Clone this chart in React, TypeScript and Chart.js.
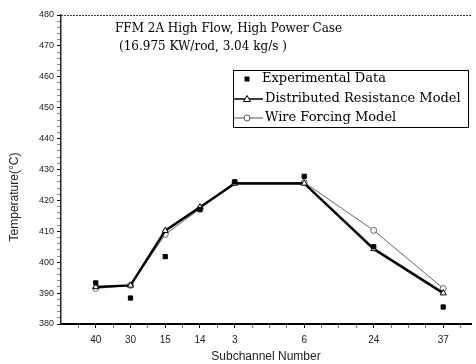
import React, { useEffect, useRef } from "react";
import { Chart, registerables } from "chart.js";

Chart.register(...registerables);

const subchannels = ["40", "30", "15", "14", "3", "6", "24", "37"];
const positions = [1, 2, 3, 4, 5, 7, 9, 11];
const experimental = [393.3, 388.4, 401.8, 417.0, 426.0, 427.8, 405.0, 385.5];
const distributedResistance = [392.0, 392.5, 410.2, 417.8, 425.5, 425.5, 404.3, 390.0];
const wireForcing = [391.5, 392.5, 409.0, 417.3, 425.8, 425.8, 410.3, 391.5];
const yMajorTicks = [380, 390, 400, 410, 420, 430, 440, 450, 460, 470, 480];
const titleLines = ["FFM 2A High Flow, High Power Case", "(16.975 KW/rod, 3.04 kg/s )"];
const legendLabels = ["Experimental Data", "Distributed Resistance Model", "Wire Forcing Model"];
const yAxisTitle = "Temperature(\u00B0C)";
const xAxisTitle = "Subchannel Number";

const SERIF = "'DejaVu Serif', 'Liberation Serif', serif";
const SANS = "'Liberation Sans', Arial, sans-serif";

const overlayPlugin = {
  id: "overlay",
  afterDraw(chart: any) {
    const ctx = chart.ctx as CanvasRenderingContext2D;
    const area = chart.chartArea;
    ctx.save();
    // dotted top border
    ctx.strokeStyle = "#444";
    ctx.lineWidth = 1;
    ctx.setLineDash([2, 1]);
    ctx.beginPath();
    ctx.moveTo(area.left, area.top + 0.5);
    ctx.lineTo(area.right, area.top + 0.5);
    ctx.stroke();
    ctx.setLineDash([]);

    // annotation text
    ctx.fillStyle = "#000";
    ctx.font = `12px ${SERIF}`;
    ctx.textBaseline = "middle";
    ctx.textAlign = "left";
    ctx.fillText(titleLines[0], 115, 29);
    ctx.fillText(titleLines[1], 119, 47);

    // legend box
    const bx = 233, by = 70, bw = 235, bh = 57;
    ctx.fillStyle = "#fff";
    ctx.fillRect(bx + 1, by + 1, bw - 1, bh - 1);
    ctx.strokeStyle = "#000";
    ctx.lineWidth = 1;
    ctx.strokeRect(bx + 0.5, by + 0.5, bw, bh);

    const rows = [79, 99, 118];
    const mx = 247;
    // experimental marker
    ctx.fillStyle = "#000";
    ctx.fillRect(mx - 2.5, rows[0] - 2.5, 5, 5);
    // DRM line
    ctx.strokeStyle = "#000";
    ctx.lineWidth = 1.5;
    ctx.beginPath();
    ctx.moveTo(bx, rows[1]);
    ctx.lineTo(bx + 30, rows[1]);
    ctx.stroke();
    ctx.lineWidth = 1;
    ctx.beginPath();
    ctx.moveTo(mx, rows[1] - 3.5);
    ctx.lineTo(mx + 3.5, rows[1] + 2.5);
    ctx.lineTo(mx - 3.5, rows[1] + 2.5);
    ctx.closePath();
    ctx.fillStyle = "#fff";
    ctx.fill();
    ctx.stroke();
    // WFM line
    ctx.strokeStyle = "#555";
    ctx.lineWidth = 1;
    ctx.beginPath();
    ctx.moveTo(bx, rows[2]);
    ctx.lineTo(bx + 30, rows[2]);
    ctx.stroke();
    ctx.beginPath();
    ctx.arc(mx, rows[2], 3, 0, Math.PI * 2);
    ctx.fillStyle = "#fff";
    ctx.fill();
    ctx.stroke();

    ctx.fillStyle = "#000";
    ctx.font = `13px ${SERIF}`;
    ctx.fillText(legendLabels[0], 262, rows[0]);
    ctx.fillText(legendLabels[1], 265, rows[1]);
    ctx.fillText(legendLabels[2], 265, rows[2]);

    // y axis title
    ctx.save();
    ctx.translate(15, 197);
    ctx.rotate(-Math.PI / 2);
    ctx.textAlign = "center";
    ctx.font = `12px ${SANS}`;
    ctx.fillStyle = "#222";
    ctx.fillText(yAxisTitle, 0, 0);
    ctx.restore();

    ctx.restore();
  },
};

export default function App() {
  const canvasRef = useRef<HTMLCanvasElement | null>(null);

  useEffect(() => {
    const canvas = canvasRef.current;
    if (!canvas) return;
    const toPts = (arr: number[]) => positions.map((x, i) => ({ x, y: arr[i] }));
    const chart = new Chart(canvas, {
      type: "line",
      data: {
        datasets: [
          {
            label: legendLabels[0],
            data: toPts(experimental),
            showLine: false,
            pointStyle: "rect",
            pointRadius: 3,
            backgroundColor: "#000",
            borderColor: "#000",
            order: 0,
          },
          {
            label: legendLabels[1],
            data: toPts(distributedResistance),
            borderColor: "#000",
            borderWidth: 2.5,
            pointStyle: "triangle",
            pointRadius: 3.5,
            pointBorderWidth: 1,
            pointBackgroundColor: "#fff",
            pointBorderColor: "#000",
            tension: 0,
            order: 1,
          },
          {
            label: legendLabels[2],
            data: toPts(wireForcing),
            borderColor: "#666",
            borderWidth: 1,
            pointStyle: "circle",
            pointRadius: 3,
            pointBorderWidth: 1,
            pointBackgroundColor: "#fff",
            pointBorderColor: "#666",
            tension: 0,
            order: 2,
          },
        ],
      },
      options: {
        responsive: false,
        animation: false,
        layout: { padding: { top: 15, right: 0, left: 0, bottom: 0 } },
        plugins: {
          legend: { display: false },
          tooltip: { enabled: false },
          title: { display: false },
        },
        scales: {
          x: {
            type: "linear",
            min: 0,
            max: 11.8,
            afterBuildTicks: (scale: any) => {
              const t: any[] = [];
              for (let v = 0.5; v <= 11.5; v += 0.5) t.push({ value: v });
              scale.ticks = t;
            },
            afterFit: (scale: any) => {
              scale.height = 40;
            },
            ticks: {
              autoSkip: false,
              maxRotation: 0,
              padding: 6,
              color: "#222",
              font: { family: SANS, size: 10 },
              callback: (value: any) => {
                const i = positions.indexOf(Number(value));
                return i >= 0 ? subchannels[i] : "";
              },
            },
            grid: {
              drawOnChartArea: false,
              drawTicks: true,
              tickLength: 4,
              color: (c: any) => (positions.includes(c.tick?.value) ? "#000" : "#777"),
            },
            border: { display: true, color: "#000", width: 2 },
            title: {
              display: true,
              text: xAxisTitle,
              color: "#222",
              font: { family: SANS, size: 12 },
              padding: { top: 0, bottom: 0 },
            },
          },
          y: {
            type: "linear",
            min: 380,
            max: 480,
            afterBuildTicks: (scale: any) => {
              const t: any[] = [];
              for (let v = 380; v <= 480; v += 2) t.push({ value: v });
              scale.ticks = t;
            },
            afterFit: (scale: any) => {
              scale.width = 61;
            },
            ticks: {
              autoSkip: false,
              padding: 3,
              color: "#222",
              font: { family: SANS, size: 9 },
              callback: (value: any) => (yMajorTicks.includes(Number(value)) ? String(value) : ""),
            },
            grid: {
              drawOnChartArea: false,
              drawTicks: true,
              tickLength: 4,
              color: (c: any) => (yMajorTicks.includes(c.tick?.value) ? "#000" : "#888"),
            },
            border: { display: true, color: "#222", width: 1.5, dash: [2, 1] },
          },
        },
      },
      plugins: [overlayPlugin],
    } as any);
    return () => chart.destroy();
  }, []);

  return (
    <div style={{ position: "absolute", left: 0, top: 0, width: 476, height: 364, background: "#fff" }}>
      <canvas ref={canvasRef} width={476} height={364} style={{ width: 476, height: 364, display: "block" }} />
    </div>
  );
}
